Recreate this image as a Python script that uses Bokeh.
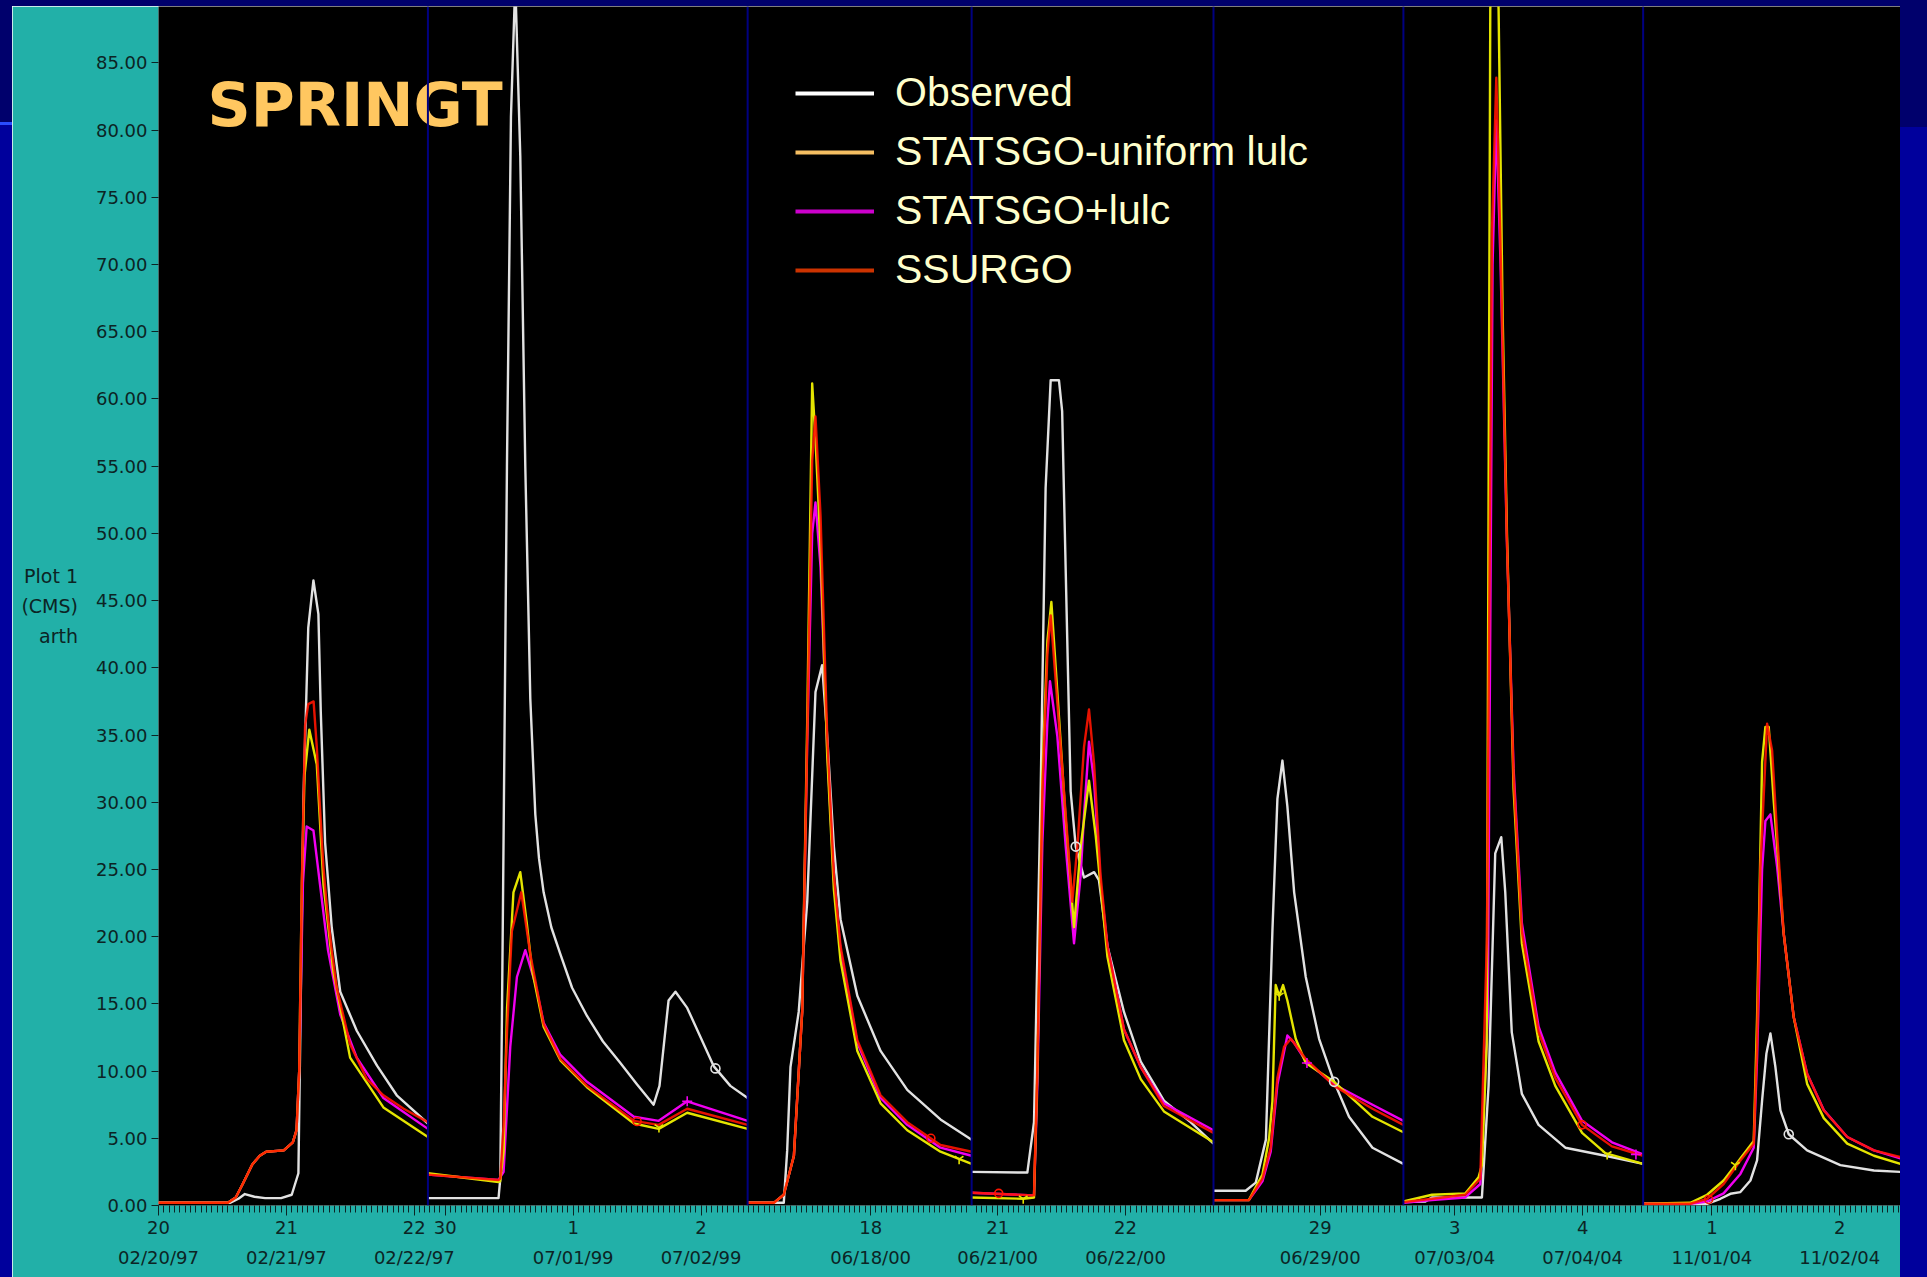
import math
import datetime as dt
from bokeh.plotting import figure
from bokeh.models import (Range1d, FixedTicker, SingleIntervalTicker, NumeralTickFormatter,
                          LinearAxis, Span, Label, Legend, LegendItem, Spacer)
from bokeh.layouts import row, column
from bokeh.embed import file_html
from bokeh.resources import INLINE

# ---------------- data (hours relative to the first labelled midnight of each event) ----------------
PANEL_REF = ["1997-02-20", "1999-06-30", "2000-06-18", "2000-06-21",
             "2000-06-29", "2004-07-03", "2004-11-01"]
PANEL_FROM_H = [0.0, -3.25, -23.08, -4.88, -20.03, -9.63, -12.9]
PANEL_TO_H = [50.55, 56.74, 18.95, 40.5, 15.6, 35.35, 35.39]
HIDDEN_DATE_LABELS = ["1999-06-30"]

SERIES = ["Observed", "STATSGO-uniform lulc", "STATSGO+lulc", "SSURGO"]

P1_OBS = [(0, 0.2), (13.4, 0.2), (15, 0.5), (16.2, 0.85), (18, 0.65), (20, 0.55), (23, 0.55), (25, 0.8),
          (26.25, 2.4), (27.2, 30.3), (28.1, 43), (29.07, 46.5), (30.0, 44), (30.45, 36.7), (31.26, 27),
          (32.5, 20.7), (34.1, 15.9), (37.2, 13), (41, 10.4), (44.7, 8.2), (50.55, 6.1)]
P1_UNI = [(0, 0.2), (13, 0.2), (14.5, 0.6), (15.8, 1.6), (17.6, 3.05), (19, 3.7), (20.2, 4.0), (23.5, 4.1),
          (25.2, 4.7), (25.9, 5.6), (26.4, 10), (26.9, 24), (27.4, 32), (28.3, 35.4), (29.7, 32.8),
          (30.95, 23.9), (32.8, 17.4), (35.95, 11), (42.2, 7.3), (50.55, 5.1)]
P1_LULC = [(0, 0.2), (13, 0.2), (14.5, 0.6), (15.8, 1.6), (17.6, 3.05), (19, 3.7), (20.2, 4.0), (23.5, 4.1),
           (25.2, 4.7), (25.9, 5.6), (26.4, 10), (27.1, 24), (27.8, 28.2), (29.07, 27.9), (30.3, 23.9),
           (31.8, 19), (34.1, 14.2), (37.2, 11), (42.2, 8.0), (50.55, 5.7)]
P1_SSURGO = [(0, 0.2), (13, 0.2), (14.5, 0.6), (15.8, 1.6), (17.6, 3.05), (19, 3.7), (20.2, 4.0), (23.5, 4.1),
             (25.2, 4.7), (25.9, 5.6), (26.4, 10), (26.9, 24), (27.5, 35.7), (28.1, 37.3), (29.1, 37.5),
             (29.7, 34.1), (30.3, 29.6), (30.95, 25.1), (31.6, 22.2), (32.5, 19), (33.45, 16.2), (35.95, 12),
             (39.1, 9.4), (42.2, 8.2), (46, 7.2), (50.55, 6.2)]

P2_OBS = [(-3.25, 0.55), (10.0, 0.55), (10.33, 2.0), (10.64, 14), (11.58, 55), (12.33, 81), (13.14, 91),
          (14.08, 78.1), (15.02, 55), (15.96, 37.7), (16.9, 29.1), (17.6, 25.8), (18.46, 23.3), (19.9, 20.7),
          (21.6, 18.7), (23.8, 16.2), (26.6, 14.1), (29.6, 12.2), (32.86, 10.6), (36.0, 9.0), (39.1, 7.5),
          (40.2, 8.9), (41.9, 15.25), (43.2, 15.9), (45.4, 14.7), (50.4, 10.35), (53.5, 8.9), (56.74, 8.0)]
P2_UNI = [(-3.25, 2.4), (10.0, 1.75), (10.3, 1.8), (10.95, 4), (11.6, 14.7), (12.8, 23.3), (14.08, 24.8),
          (15.3, 21), (16.3, 17.5), (18.46, 13.3), (21.6, 10.8), (26.6, 8.8), (35.4, 6.1), (40.05, 5.7),
          (45.4, 6.9), (56.74, 5.7)]
P2_LULC = [(-3.25, 2.3), (10.0, 1.9), (10.95, 2.5), (12.2, 11.8), (13.45, 17), (15.02, 19.0), (16.9, 16.5),
           (18.46, 13.6), (21.6, 11.2), (26.6, 9.2), (35.4, 6.6), (40.05, 6.3), (45.4, 7.75), (56.74, 6.3)]
P2_SSURGO = [(-3.25, 2.3), (10.0, 1.9), (10.33, 2.0), (10.95, 6), (11.6, 13), (12.5, 20.4), (14.27, 23.3),
             (15.96, 18.7), (18.46, 13.5), (21.6, 10.9), (26.6, 8.9), (35.4, 6.3), (40.05, 6.0), (45.4, 7.2),
             (56.74, 6.0)]

P3_OBS = [(-23.08, 0.2), (-16.3, 0.2), (-15.66, 4.1), (-15.04, 10.3), (-13.5, 14.4), (-11.9, 22.6),
          (-10.35, 38.2), (-9.1, 40.2), (-8.15, 34.9), (-6.9, 26.7), (-5.65, 21.3), (-2.5, 15.6), (1.86, 11.5),
          (6.87, 8.6), (13.1, 6.4), (18.95, 4.9)]
P3_UNI = [(-23.08, 0.2), (-18.17, 0.2), (-16.3, 0.8), (-14.4, 3.7), (-12.85, 14.4), (-11.9, 36),
          (-10.97, 61.15), (-10.35, 57), (-9.4, 49), (-8.15, 33.5), (-6.9, 23.5), (-5.65, 18.2), (-2.5, 11.5),
          (1.86, 7.6), (6.87, 5.6), (13.1, 4.0), (18.95, 3.1)]
P3_LULC = [(-23.08, 0.2), (-18.17, 0.2), (-16.3, 0.8), (-14.4, 3.7), (-12.85, 14.4), (-11.9, 34.5),
           (-10.97, 50), (-10.35, 52.3), (-9.4, 47.5), (-8.15, 34), (-6.9, 24.2), (-5.65, 19), (-2.5, 12.1),
           (1.86, 8.0), (6.87, 6.0), (13.1, 4.3), (18.95, 3.7)]
P3_SSURGO = [(-23.08, 0.2), (-18.17, 0.2), (-16.3, 0.8), (-14.4, 3.7), (-12.85, 14.4), (-11.9, 34.9),
             (-10.97, 55.4), (-10.35, 58.7), (-9.4, 51.3), (-8.15, 34.9), (-6.9, 24.6), (-5.65, 19.3),
             (-2.5, 12.3), (1.86, 8.2), (6.87, 6.2), (13.1, 4.5), (18.95, 4.0)]

P4_OBS = [(-4.88, 2.5), (5.57, 2.45), (6.82, 6.2), (8.07, 30.8), (9.0, 53.4), (9.95, 61.4), (11.5, 61.4),
          (12.1, 59.1), (12.77, 47.2), (13.7, 30.8), (14.65, 26.7), (16.2, 24.4), (18.1, 24.8), (19.0, 24.2),
          (20.6, 19.3), (23.7, 14.4), (26.85, 10.7), (31.2, 7.8), (36.2, 6.2), (40.5, 4.6)]
P4_UNI = [(-4.88, 0.6), (4.8, 0.5), (6.82, 0.6), (7.45, 10), (8.39, 32), (9.33, 42), (10.08, 44.9),
          (11.2, 38.2), (12.77, 28.7), (14.33, 20.7), (15.58, 26.7), (17.14, 31.6), (18.4, 27.5), (20.6, 18.5),
          (23.7, 12.3), (26.85, 9.4), (31.2, 7.0), (40.5, 4.7)]
P4_LULC = [(-4.88, 0.95), (6.82, 0.75), (7.45, 9), (8.39, 27), (9.33, 36), (9.82, 39.0), (11.2, 34.9),
           (12.77, 26.7), (14.33, 19.5), (15.58, 24.6), (16.2, 29), (17.14, 34.5), (18.1, 31.5), (19.3, 24),
           (20.6, 19.3), (23.7, 13.1), (26.85, 10.3), (31.2, 7.6), (40.5, 5.6)]
P4_SSURGO = [(-4.88, 0.95), (6.82, 0.75), (7.45, 10.3), (8.39, 30.8), (9.33, 41.0), (9.95, 43.9),
             (10.89, 39.0), (12.45, 30.8), (14.0, 22.6), (14.96, 26.7), (16.2, 34.1), (17.14, 36.9),
             (18.1, 32.8), (19.3, 24.6), (20.6, 19.3), (23.7, 13.1), (26.85, 10.3), (31.2, 7.4), (40.5, 5.4)]

P5_OBS = [(-20.03, 1.1), (-14.0, 1.1), (-12.1, 1.7), (-10.2, 4.9), (-8.98, 20.4), (-8.04, 30.25), (-7.1, 33.1),
          (-6.17, 29.7), (-4.9, 23.3), (-2.72, 17.0), (-0.22, 12.4), (2.6, 9.2), (5.4, 6.6), (9.8, 4.3),
          (15.6, 3.1)]
P5_UNI = [(-20.03, 0.4), (-13.4, 0.4), (-10.85, 2.3), (-9.6, 5), (-8.98, 7.75), (-8.36, 16.4), (-7.7, 15.6),
          (-6.98, 16.4), (-6.17, 15.25), (-4.6, 12.4), (-2.72, 10.6), (2.6, 9.2), (9.8, 6.6), (15.6, 5.45)]
P5_LULC = [(-20.03, 0.4), (-13.4, 0.4), (-10.85, 1.8), (-9.3, 4.0), (-8.04, 9.0), (-6.17, 12.65), (-4.9, 12.1),
           (-2.72, 10.75), (2.6, 9.0), (9.8, 7.5), (15.6, 6.3)]
P5_SSURGO = [(-20.03, 0.4), (-13.4, 0.4), (-10.85, 2.0), (-9.3, 4.3), (-8.04, 9.5), (-6.8, 11.8), (-5.5, 12.4),
             (-2.72, 10.9), (2.6, 8.9), (9.8, 7.2), (15.6, 6.0)]

P6_OBS = [(-9.63, 0.25), (-5.5, 0.3), (-4.28, 0.6), (5.1, 0.6), (6.35, 8.9), (7.6, 26.2), (8.73, 27.4),
          (9.48, 23.3), (10.7, 12.9), (12.6, 8.3), (15.74, 6.0), (20.75, 4.3), (28.26, 3.7), (35.35, 3.1)]
P6_UNI = [(-9.63, 0.3), (-4.28, 0.8), (1.97, 0.9), (4.47, 2.1), (5.1, 3.0), (6.0, 12), (6.67, 89), (7.4, 97),
          (8.23, 89), (9.0, 66), (9.8, 50), (11.04, 31), (12.6, 19.5), (15.74, 12.2), (18.87, 8.9), (23.9, 5.4),
          (28.26, 3.9), (35.35, 3.1)]
P6_LULC = [(-9.63, 0.2), (-4.28, 0.4), (1.97, 0.6), (4.8, 1.6), (6.2, 14), (7.1, 70), (7.8, 80.7), (8.6, 70),
           (9.8, 49.3), (11.04, 32.5), (12.6, 21), (15.74, 13.3), (18.87, 9.9), (23.9, 6.3), (29.5, 4.7),
           (35.35, 3.8)]
P6_SSURGO = [(-9.63, 0.25), (-4.28, 0.5), (1.97, 0.8), (4.8, 2.0), (6.05, 20), (6.98, 72.35), (7.8, 83.9),
             (8.54, 72.35), (9.8, 49.3), (11.04, 32.0), (12.6, 20.4), (15.74, 12.9), (18.87, 9.5), (23.9, 6.0),
             (29.5, 4.4), (35.35, 3.7)]

P7_OBS = [(-12.9, 0.13), (-0.9, 0.13), (1.6, 0.5), (3.47, 0.87), (5.35, 1.0), (7.23, 1.86), (8.48, 3.35),
          (9.42, 7.8), (10.23, 11.3), (10.98, 12.8), (11.92, 10.3), (12.86, 7.07), (14.42, 5.3), (17.87, 4.1),
          (24.1, 3.0), (30.4, 2.6), (35.39, 2.5)]
P7_UNI = [(-12.9, 0.13), (-4.04, 0.2), (-0.9, 0.8), (2.2, 1.86), (4.41, 3.0), (5.35, 3.5), (7.85, 4.8),
          (8.48, 14), (9.42, 33), (10.04, 35.6), (10.67, 35.6), (11.6, 30.1), (13.48, 20.2), (15.36, 14.0),
          (17.87, 9.05), (21.0, 6.5), (25.4, 4.6), (30.4, 3.7), (35.39, 3.1)]
P7_LULC = [(-12.9, 0.13), (-4.04, 0.13), (-0.9, 0.3), (2.2, 0.9), (5.35, 2.35), (7.85, 4.3), (8.48, 11),
           (9.42, 25), (10.04, 28.6), (10.98, 29.1), (12.24, 25.2), (13.48, 20.2), (15.36, 14.0), (17.87, 9.8),
           (21.0, 7.1), (25.4, 5.1), (30.4, 4.1), (35.39, 3.5)]
P7_SSURGO = [(-12.9, 0.13), (-4.04, 0.13), (-0.9, 0.5), (2.2, 1.6), (5.35, 3.35), (7.85, 4.6), (8.48, 12),
             (9.1, 25.2), (10.36, 35.84), (11.3, 33.85), (12.24, 27.65), (13.48, 20.2), (15.36, 14.0),
             (17.87, 9.8), (21.0, 7.07), (25.4, 5.1), (30.4, 4.1), (35.39, 3.6)]

# series markers: (event number, hour, value)
OBS_MARKS = [(2, 50.7, 10.2), (4, 14.65, 26.7), (5, 2.6, 9.2), (7, 14.42, 5.3)]
UNI_MARKS = [(2, 40.1, 5.8), (3, 16.6, 3.45), (4, 4.8, 0.5), (5, -7.7, 15.6), (6, 28.6, 3.8), (7, 4.41, 3.0)]
LULC_MARKS = [(2, 45.4, 7.75), (5, -2.5, 10.6), (6, 34.0, 3.8)]
SSURGO_MARKS = [(2, 36.0, 6.25), (3, 11.3, 5.0), (4, 0.2, 0.9), (6, 23.9, 6.0), (7, -0.6, 0.45)]

OBSERVED = [P1_OBS, P2_OBS, P3_OBS, P4_OBS, P5_OBS, P6_OBS, P7_OBS]
UNIFORM = [P1_UNI, P2_UNI, P3_UNI, P4_UNI, P5_UNI, P6_UNI, P7_UNI]
LULC = [P1_LULC, P2_LULC, P3_LULC, P4_LULC, P5_LULC, P6_LULC, P7_LULC]
SSURGO = [P1_SSURGO, P2_SSURGO, P3_SSURGO, P4_SSURGO, P5_SSURGO, P6_SSURGO, P7_SSURGO]

# ---------------- styling ----------------
TEAL = "#22B0A8"
DARK = "#00006C"
BLUE = "#00009C"
SEP = "#000080"
INK = "#0C2424"
LINE_COLORS = ["#E2E2E2", "#E4E400", "#F000F0", "#FF1400"]
LEGEND_COLORS = ["#FFFFFF", "#F5BE62", "#CC00CC", "#CC3300"]

widths = [b - a for a, b in zip(PANEL_FROM_H, PANEL_TO_H)]
offsets = [sum(widths[:k]) for k in range(len(widths))]
TOTAL_H = sum(widths)


def to_x(k, h):
    return offsets[k] + (h - PANEL_FROM_H[k])


p = figure(width=1888, height=1271, title=None, output_backend="svg", toolbar_location=None,
           x_range=Range1d(0, TOTAL_H), y_range=Range1d(0, 89.2),
           x_axis_type=None, y_axis_type=None,
           background_fill_color="black", border_fill_color=TEAL, outline_line_color=None,
           min_border_left=146, min_border_right=0, min_border_top=0, min_border_bottom=72)

# data lines (one multi-line per series, one segment per event)
for panels, color, alpha in [(OBSERVED, LINE_COLORS[0], 1.0), (LULC, LINE_COLORS[2], 1.0),
                             (UNIFORM, LINE_COLORS[1], 1.0), (SSURGO, LINE_COLORS[3], 0.9)]:
    xs = [[to_x(k, h) for h, q in pts] for k, pts in enumerate(panels)]
    ys = [[q for h, q in pts] for pts in panels]
    p.multi_line(xs, ys, line_color=color, line_width=2.4, line_alpha=alpha, line_join="round")

for marks, marker, color, size in [(OBS_MARKS, "circle", LINE_COLORS[0], 9),
                                   (UNI_MARKS, "y", LINE_COLORS[1], 10),
                                   (LULC_MARKS, "cross", LINE_COLORS[2], 10),
                                   (SSURGO_MARKS, "circle", LINE_COLORS[3], 8)]:
    p.scatter([to_x(k - 1, h) for k, h, q in marks], [q for k, h, q in marks], marker=marker,
              size=size, line_color=color, fill_color=None, line_width=1.6)

# y axis
yaxis = LinearAxis(ticker=SingleIntervalTicker(interval=5, num_minor_ticks=0),
                   formatter=NumeralTickFormatter(format="0.00"),
                   axis_label="Plot 1\n(CMS)\narth", axis_label_orientation="horizontal",
                   axis_label_standoff=15, axis_label_text_font="DejaVu Sans",
                   axis_label_text_font_size="19px", axis_label_text_font_style="normal",
                   axis_label_text_color=INK, axis_label_text_line_height=1.35,
                   major_label_text_font="DejaVu Sans", major_label_text_font_size="18px",
                   major_label_text_color=INK, major_label_standoff=4,
                   major_tick_out=7, major_tick_in=0, major_tick_line_color=INK,
                   minor_tick_out=0, minor_tick_in=0, axis_line_color=None)
p.add_layout(yaxis, "left")

# x axes: day numbers (with ruler ticks) and dates below
major, minor, day_lab, date_ticks, date_lab = [], [], {}, [], {}
for k in range(len(PANEL_REF)):
    ref = dt.date.fromisoformat(PANEL_REF[k])
    for d in range(-2, 4):
        h = 24 * d
        if PANEL_FROM_H[k] <= h <= PANEL_TO_H[k]:
            x = to_x(k, h)
            day = ref + dt.timedelta(days=d)
            major.append(x)
            day_lab[x] = str(day.day)
            if day.isoformat() not in HIDDEN_DATE_LABELS:
                date_ticks.append(x)
                date_lab[x] = day.strftime("%m/%d/%y")
    for h in range(math.ceil(PANEL_FROM_H[k]), math.floor(PANEL_TO_H[k]) + 1):
        minor.append(to_x(k, h))

xday = LinearAxis(ticker=FixedTicker(ticks=major, minor_ticks=minor), major_label_overrides=day_lab,
                  major_label_text_font="DejaVu Sans", major_label_text_font_size="18px",
                  major_label_text_color=INK, major_label_standoff=5,
                  major_tick_out=10, major_tick_in=0, minor_tick_out=7, minor_tick_in=0,
                  major_tick_line_color=INK, minor_tick_line_color=INK, axis_line_color=None)
xdate = LinearAxis(ticker=FixedTicker(ticks=date_ticks, minor_ticks=[]), major_label_overrides=date_lab,
                   major_label_text_font="DejaVu Sans", major_label_text_font_size="18px",
                   major_label_text_color=INK, major_label_standoff=10,
                   major_tick_out=0, major_tick_in=0, minor_tick_out=0, minor_tick_in=0,
                   major_tick_line_color=None, minor_tick_line_color=None, axis_line_color=None)
p.add_layout(xday, "below")
p.add_layout(xdate, "below")

# title
p.add_layout(Label(x=to_x(0, 9.2), y=81.9, text="SPRINGT", text_font="DejaVu Sans",
                   text_font_size="60px", text_font_style="bold", text_color="#FFC760",
                   text_baseline="alphabetic"))

# legend (slide-style colours)
dummies = [p.line(x=[float("nan")], y=[float("nan")], line_color=c, line_width=4) for c in LEGEND_COLORS]
legend = Legend(items=[LegendItem(label=s, renderers=[r]) for s, r in zip(SERIES, dummies)],
                location=(637, 912), orientation="vertical",
                background_fill_alpha=0.0, border_line_color=None,
                padding=0, margin=0, spacing=12, glyph_width=79, glyph_height=46, label_height=46,
                label_standoff=21, label_text_font="Liberation Sans", label_text_font_size="41px",
                label_text_color="#FFFFCC")
p.add_layout(legend)

# panel separators
for k in range(1, len(widths)):
    p.add_layout(Span(location=offsets[k], dimension="height", line_color=SEP, line_width=2,
                      level="overlay"))

# slide background around the chart
top = Spacer(width=1927, height=6, styles={"background-color": DARK})
left = column(Spacer(width=12, height=116, styles={"background-color": DARK}),
              Spacer(width=12, height=3, styles={"background-color": "#2A4CFF"}),
              Spacer(width=12, height=1152, styles={"background-color": BLUE}))
right = column(Spacer(width=27, height=121, styles={"background-color": DARK}),
               Spacer(width=27, height=1150, styles={"background-color": BLUE}))
layout = column(top, row(left, p, right))

open("out.html", "w").write(file_html(layout, INLINE))
